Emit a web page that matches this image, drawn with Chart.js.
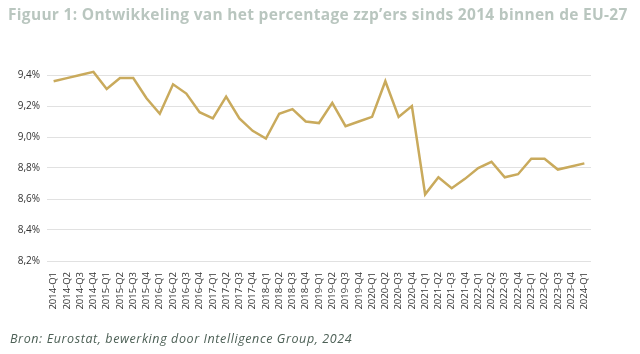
<!DOCTYPE html>
<html>
<head>
<meta charset="utf-8">
<script src="https://cdn.jsdelivr.net/npm/chart.js@4/dist/chart.umd.min.js"></script>
<style>
  html, body { margin: 0; padding: 0; background: #fff; }
  #wrap { position: relative; width: 640px; height: 354px; overflow: hidden; }
  #chart { position: absolute; left: 0; top: 0; }
  #title { position: absolute; left: 8px; top: 3px; white-space: nowrap; font: bold 15.5px "Open Sans", sans-serif; letter-spacing: 0.3px; color: #b9c6bf; }
  #source { position: absolute; left: 10px; top: 330px; white-space: nowrap; font: italic 12.5px "Open Sans", sans-serif; letter-spacing: 0.6px; color: #4d6056; }
</style>
</head>
<body>
<div id="wrap">
  <canvas id="chart" width="640" height="354"></canvas>
  <div id="title">Figuur 1: Ontwikkeling van het percentage zzp’ers sinds 2014 binnen de EU-27</div>
  <div id="source">Bron: Eurostat, bewerking door Intelligence Group, 2024</div>
</div>
<script>
// quarters 2014-Q1 .. 2024-Q1
const quarters = [
  '2014-Q1', '2014-Q2', '2014-Q3', '2014-Q4',
  '2015-Q1', '2015-Q2', '2015-Q3', '2015-Q4',
  '2016-Q1', '2016-Q2', '2016-Q3', '2016-Q4',
  '2017-Q1', '2017-Q2', '2017-Q3', '2017-Q4',
  '2018-Q1', '2018-Q2', '2018-Q3', '2018-Q4',
  '2019-Q1', '2019-Q2', '2019-Q3', '2019-Q4',
  '2020-Q1', '2020-Q2', '2020-Q3', '2020-Q4',
  '2021-Q1', '2021-Q2', '2021-Q3', '2021-Q4',
  '2022-Q1', '2022-Q2', '2022-Q3', '2022-Q4',
  '2023-Q1', '2023-Q2', '2023-Q3', '2023-Q4',
  '2024-Q1',
];
// share of self-employed without staff (%)
const zzpShare = [
  9.36, 9.38, 9.40, 9.42,
  9.31, 9.38, 9.38, 9.25,
  9.15, 9.34, 9.28, 9.16,
  9.12, 9.26, 9.12, 9.04,
  8.99, 9.15, 9.18, 9.10,
  9.09, 9.22, 9.07, 9.10,
  9.13, 9.36, 9.13, 9.20,
  8.63, 8.74, 8.67, 8.73,
  8.80, 8.84, 8.74, 8.76,
  8.86, 8.86, 8.79, 8.81,
  8.83,
];
const yTicks = [8.2, 8.4, 8.6, 8.8, 9.0, 9.2, 9.4];

const tickFont = { family: '"Open Sans", sans-serif', size: 9.5 };

new Chart(document.getElementById('chart'), {
  type: 'line',
  data: {
    labels: quarters,
    datasets: [{
      data: zzpShare,
      borderColor: '#c9aa5c',
      borderWidth: 2.5,
      pointRadius: 0,
      tension: 0,
      clip: false,
    }],
  },
  options: {
    responsive: false,
    animation: false,
    layout: { padding: { top: 75, right: 49, left: 0, bottom: 0 } },
    plugins: { legend: { display: false }, tooltip: { enabled: false } },
    scales: {
      x: {
        offset: true,
        grid: { display: false },
        border: { display: false },
        ticks: { color: '#333', font: tickFont, maxRotation: 90, minRotation: 90, autoSkip: false, padding: 3 },
        afterFit: (s) => { s.height = 93; },
      },
      y: {
        min: 8.2, max: 9.4,
        afterBuildTicks: (s) => { s.ticks = yTicks.map((v) => ({ value: v })); },
        grid: { color: '#e1e1e1', lineWidth: 1, drawTicks: false },
        border: { display: false },
        ticks: {
          color: '#333', font: { family: '"Open Sans", sans-serif', size: 10 }, padding: 7,
          callback: (v) => v.toFixed(1).replace('.', ',') + '%',
        },
        afterFit: (s) => { s.width = 47; },
      },
    },
  },
});
</script>
</body>
</html>
